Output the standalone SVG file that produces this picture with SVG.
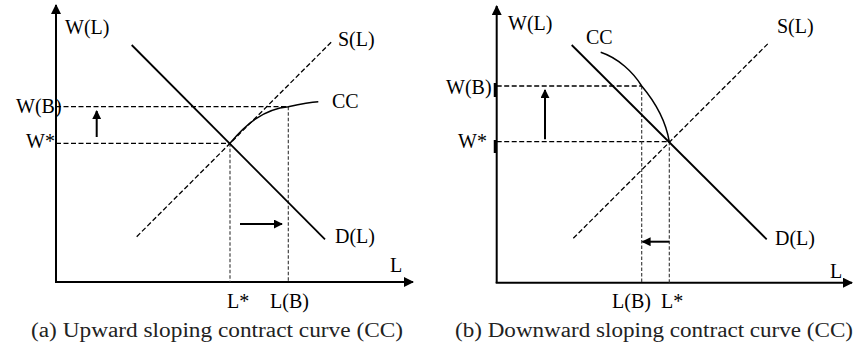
<svg xmlns="http://www.w3.org/2000/svg" width="854" height="351" viewBox="0 0 854 351">
<style>
.ax{stroke:#000;stroke-width:2;fill:none}
.sol{stroke:#000;stroke-width:1.8;fill:none}
.dash{stroke:#000;stroke-width:1.3;stroke-dasharray:5 2.5;fill:none}
.dashg{stroke:#333;stroke-width:1.1;stroke-dasharray:3.5 2;fill:none}
.cur{stroke:#000;stroke-width:1.5;fill:none}
.arr{stroke:#000;stroke-width:2;fill:none}
.lbl{font-family:"Liberation Serif","Times New Roman",serif;font-size:20px;fill:#000}
.cap{font-family:"Liberation Serif","Times New Roman",serif;font-size:20px;fill:#222}
.tick{stroke:#000;stroke-width:2.5}
</style>
<defs>
<marker id="ah" viewBox="0 0 10 10" refX="9" refY="5" markerWidth="10" markerHeight="10" markerUnits="userSpaceOnUse" orient="auto">
<path d="M0,0 L10,5 L0,10 z" fill="#000"/>
</marker>
<marker id="ahs" viewBox="0 0 10 10" refX="9" refY="5" markerWidth="9" markerHeight="9" markerUnits="userSpaceOnUse" orient="auto">
<path d="M0,0 L10,5 L0,10 z" fill="#000"/>
</marker>
</defs>

<g id="panel-a">
<g id="a-axes">
<path class="ax" d="M56,282 L56,5" marker-end="url(#ah)"/>
<path class="ax" d="M55,282 L413,282" marker-end="url(#ah)"/>
<text class="lbl" x="65" y="34">W(L)</text>
<text class="lbl" x="390" y="272">L</text>
</g>
<g id="a-connectors">
<path class="dash" d="M56,106.7 L288.3,106.7"/>
<path class="dash" d="M56,143.3 L230,143.3"/>
<path class="dashg" d="M230,143.3 L230,282"/>
<path class="dashg" d="M288.3,106.7 L288.3,282"/>
<path class="dash" d="M136.7,236.7 L331.7,41.7"/>
<path class="sol" d="M131.7,45 L325,239.3"/>
<path class="cur" d="M230,143.3 C246,124 264,109 288.3,106.7 C300,104 310,102 318.3,101.7"/>
<path class="arr" d="M96.7,137 L96.7,111" marker-end="url(#ahs)"/>
<path class="arr" d="M240,224 L282,224" marker-end="url(#ahs)"/>
</g>
<g id="a-labels">
<text class="lbl" x="338" y="46">S(L)</text>
<text class="lbl" x="332" y="108">CC</text>
<text class="lbl" x="335" y="243">D(L)</text>
<text class="lbl" x="16" y="113">W(B)</text>
<text class="lbl" x="26" y="148">W*</text>
<text class="lbl" x="227" y="308">L*</text>
<text class="lbl" x="270" y="308">L(B)</text>
</g>
<text class="cap" x="31" y="337" textLength="372" lengthAdjust="spacingAndGlyphs">(a) Upward sloping contract curve (CC)</text>
</g>

<g id="panel-b">
<g id="b-axes">
<path class="ax" d="M496.7,283 L496.7,6" marker-end="url(#ah)"/>
<path class="ax" d="M495.7,282.7 L852,282.7" marker-end="url(#ah)"/>
<line class="tick" x1="495" y1="83" x2="495" y2="97"/>
<line class="tick" x1="495" y1="140" x2="495" y2="153"/>
<text class="lbl" x="508" y="30">W(L)</text>
<text class="lbl" x="830" y="278">L</text>
</g>
<g id="b-connectors">
<path class="dash" d="M496.7,86 L641.7,86"/>
<path class="dash" d="M496.7,141.7 L669.3,141.7"/>
<path class="dashg" d="M641.7,86 L641.7,282.7"/>
<path class="dashg" d="M669.3,141.7 L669.3,282.7"/>
<path class="dash" d="M573.3,238.3 L768.3,43.3"/>
<path class="sol" d="M571.7,45 L766.7,239.3"/>
<path class="cur" d="M600.7,52.3 C618,58 633,72 641.7,86 C656,103 666,122 669.3,141.7"/>
<path class="arr" d="M545,139.3 L545,90" marker-end="url(#ahs)"/>
<path class="arr" d="M669.3,241.7 L642.5,241.7" marker-end="url(#ahs)"/>
</g>
<g id="b-labels">
<text class="lbl" x="586" y="44">CC</text>
<text class="lbl" x="777" y="33">S(L)</text>
<text class="lbl" x="775" y="245">D(L)</text>
<text class="lbl" x="446" y="94">W(B)</text>
<text class="lbl" x="458" y="148">W*</text>
<text class="lbl" x="612" y="308">L(B)</text>
<text class="lbl" x="661" y="308">L*</text>
</g>
<text class="cap" x="455" y="337" textLength="398" lengthAdjust="spacingAndGlyphs">(b) Downward sloping contract curve (CC)</text>
</g>
</svg>
